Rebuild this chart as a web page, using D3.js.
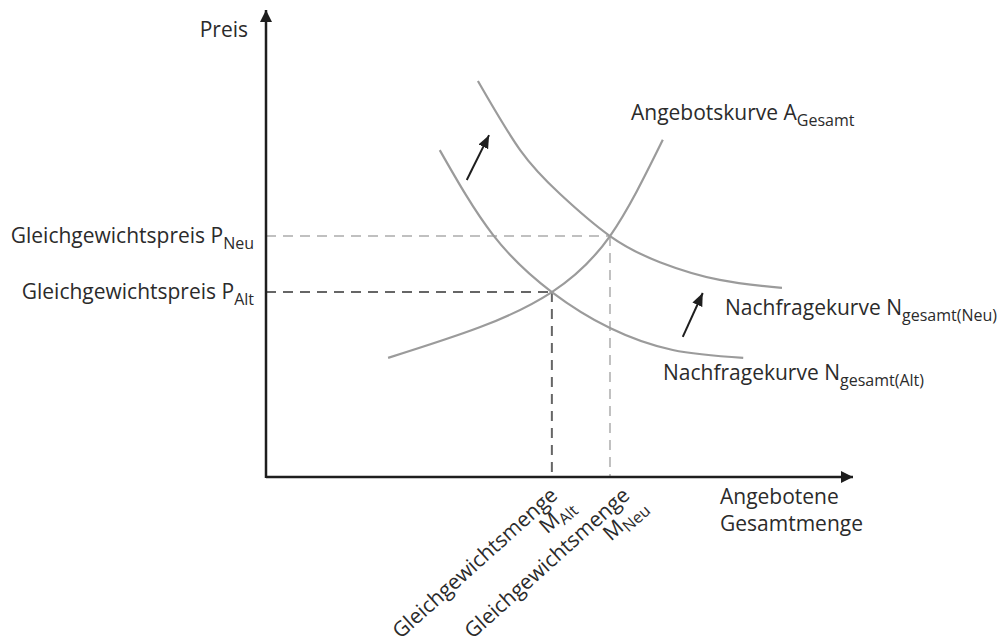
<!DOCTYPE html>
<html lang="de">
	<head>
		<meta charset="utf-8">
		<title>Angebot und Nachfrage</title>
		<script type="text/javascript" src="https://d3js.org/d3.v7.min.js"></script>
		<style type="text/css">
			body { margin: 0; background: #fff; }
			text {
				font-family: "Open Sans", sans-serif;
				font-size: 21px;
				fill: #2b2b2b;
			}
			.sub { font-size: 16px; }
		</style>
		<script type="text/javascript">
			// Width and height
			const width = 1007;
			const height = 643;

			// Kurven (Menge, Preis) in Einheiten 0..100
			const angebot = [
				[20.8, 25.5], [36.5, 32.1], [48.7, 39.6], [58.6, 51.6], [67.6, 72.2]
			];
			const nachfrageAlt = [
				[29.6, 70.0], [38.7, 51.8], [48.7, 39.6], [58.6, 31.9], [69.3, 27.2], [81.3, 25.5]
			];
			const nachfrageNeu = [
				[36.1, 84.8], [43.3, 70.0], [50.1, 60.6], [58.6, 51.6], [67.1, 46.0], [77.3, 42.2], [87.9, 40.5]
			];

			// Gleichgewichte: Menge, Preis
			const gleichgewichtAlt = [48.7, 39.6];
			const gleichgewichtNeu = [58.6, 51.6];

			// Verschiebungspfeile: von -> nach
			const pfeile = [
				[[34.2, 63.6], [38.0, 73.2]],
				[[71.0, 30.0], [74.4, 39.4]]
			];

			const preisLabels = ["Gleichgewichtspreis P", "Gleichgewichtspreis P"];
			const preisSubs = ["Alt", "Neu"];
			const mengeLabels = ["Gleichgewichtsmenge", "Gleichgewichtsmenge"];
			const mengeSubs = ["Alt", "Neu"];
		</script>
	</head>
	<body>
		<div id="Area"></div>
		<script>
			const svg = d3.select("#Area")
						.append("svg")
						.attr("width", width)
						.attr("height", height);

			const xScale = d3.scaleLinear().domain([0, 100]).range([266, 853]);
			const yScale = d3.scaleLinear().domain([0, 100]).range([477, 10]);

			// Pfeilspitzen
			const defs = svg.append("defs");
			defs.append("marker")
				.attr("id", "axisHead")
				.attr("viewBox", "0 0 12 12")
				.attr("refX", 12).attr("refY", 6)
				.attr("markerWidth", 12).attr("markerHeight", 12)
				.attr("markerUnits", "userSpaceOnUse")
				.attr("orient", "auto")
				.append("path")
				.attr("d", "M0,0 L12,6 L0,12 Z")
				.attr("fill", "#1e1e1e");
			defs.append("marker")
				.attr("id", "shiftHead")
				.attr("viewBox", "0 0 12 12")
				.attr("refX", 12).attr("refY", 6)
				.attr("markerWidth", 13).attr("markerHeight", 13)
				.attr("markerUnits", "userSpaceOnUse")
				.attr("orient", "auto")
				.append("path")
				.attr("d", "M0,1 L12,6 L0,11 Z")
				.attr("fill", "#1e1e1e");

			// Hilfslinien (gestrichelt)
			const guides = [
				{ p: gleichgewichtAlt, color: "#666" },
				{ p: gleichgewichtNeu, color: "#c0c0c0" }
			];
			guides.forEach(g => {
				svg.append("line")
					.attr("x1", xScale(0)).attr("y1", yScale(g.p[1]))
					.attr("x2", xScale(g.p[0])).attr("y2", yScale(g.p[1]))
					.attr("stroke", g.color).attr("stroke-width", 2)
					.attr("stroke-dasharray", "10,7");
				svg.append("line")
					.attr("x1", xScale(g.p[0])).attr("y1", yScale(g.p[1]))
					.attr("x2", xScale(g.p[0])).attr("y2", yScale(0))
					.attr("stroke", g.color).attr("stroke-width", 2)
					.attr("stroke-dasharray", "10,7");
			});

			// Kurven
			const line = d3.line()
				.x(d => xScale(d[0]))
				.y(d => yScale(d[1]))
				.curve(d3.curveNatural);

			svg.selectAll("path.kurve")
				.data([angebot, nachfrageAlt, nachfrageNeu])
				.enter()
				.append("path")
				.attr("class", "kurve")
				.attr("d", line)
				.attr("fill", "none")
				.attr("stroke", "#9b9b9b")
				.attr("stroke-width", 2.2);

			// Achsen
			svg.append("line")
				.attr("x1", xScale(0)).attr("y1", yScale(0))
				.attr("x2", xScale(100)).attr("y2", yScale(0))
				.attr("stroke", "#1e1e1e").attr("stroke-width", 2.5)
				.attr("marker-end", "url(#axisHead)");
			svg.append("line")
				.attr("x1", xScale(0)).attr("y1", yScale(0) + 1)
				.attr("x2", xScale(0)).attr("y2", yScale(100))
				.attr("stroke", "#1e1e1e").attr("stroke-width", 2.5)
				.attr("marker-end", "url(#axisHead)");

			// Verschiebungspfeile
			svg.selectAll("line.shift")
				.data(pfeile)
				.enter()
				.append("line")
				.attr("class", "shift")
				.attr("x1", d => xScale(d[0][0])).attr("y1", d => yScale(d[0][1]))
				.attr("x2", d => xScale(d[1][0])).attr("y2", d => yScale(d[1][1]))
				.attr("stroke", "#1e1e1e").attr("stroke-width", 2)
				.attr("marker-end", "url(#shiftHead)");

			// Text mit Index
			function label(x, y, main, sub, anchor) {
				const t = svg.append("text")
					.attr("x", x).attr("y", y)
					.attr("text-anchor", anchor || "start");
				t.append("tspan").text(main);
				if (sub) {
					t.append("tspan").attr("class", "sub").attr("dy", 6).text(sub);
				}
				return t;
			}

			label(248, 37, "Preis", null, "end");
			label(254, yScale(gleichgewichtAlt[1]) + 7, preisLabels[0], preisSubs[0], "end");
			label(254, yScale(gleichgewichtNeu[1]) + 7, preisLabels[1], preisSubs[1], "end");

			label(631, 120, "Angebotskurve A", "Gesamt");
			label(725, 315, "Nachfragekurve N", "gesamt(Neu)");
			label(663, 380, "Nachfragekurve N", "gesamt(Alt)");

			label(720, 504, "Angebotene");
			label(720, 531, "Gesamtmenge");

			// Gedrehte Mengenbeschriftungen
			const mengeOffsets = [7, 21];
			[gleichgewichtAlt, gleichgewichtNeu].forEach((g, i) => {
				const pos = "translate(" + (xScale(g[0]) + mengeOffsets[i]) + "," + (yScale(0) + 20) + ") rotate(-42)";
				svg.append("text")
					.attr("text-anchor", "end")
					.attr("transform", pos)
					.text(mengeLabels[i]);
				const t2 = svg.append("text")
					.attr("text-anchor", "end")
					.attr("transform", pos);
				t2.append("tspan").attr("x", 5).attr("y", 20).text("M");
				t2.append("tspan").attr("class", "sub").attr("dy", 5).text(mengeSubs[i]);
			});
		</script>
	</body>
</html>
